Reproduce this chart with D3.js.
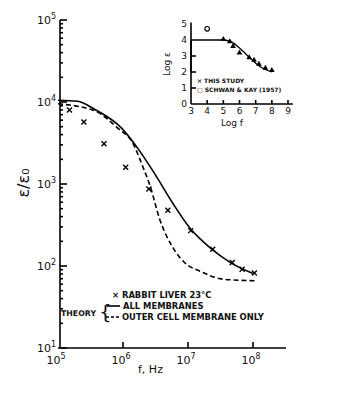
<!DOCTYPE html>
<html>
<head>
<meta charset="utf-8">
<script src="https://cdn.jsdelivr.net/npm/d3@7"></script>
<style>
  body { margin: 0; background: #fff; }
  svg { display: block; font-family: "DejaVu Sans", sans-serif; }
  .ax { stroke: #000; stroke-width: 1.6; fill: none; }
  .lbl { fill: #111; }
</style>
</head>
<body>
<svg width="353" height="413"></svg>
<script>
// main chart: permittivity ratio vs frequency (log-log)
const measF = [1.5e5, 2.5e5, 5.1e5, 1.1e6, 2.5e6, 4.9e6, 1.1e7, 2.4e7, 4.8e7, 6.8e7, 1.05e8];
const measE = [8000, 5700, 3100, 1600, 870, 480, 270, 160, 110, 91, 82];

const allF = [1e5, 2e5, 3.7e5, 9.5e5, 1.7e6, 3.1e6, 5.9e6, 1.07e7, 2.2e7, 4.5e7, 1e8];
const allE = [10500, 10200, 8100, 4800, 2700, 1320, 575, 290, 166, 110, 81];

const outF = [1e5, 3.7e5, 8.3e5, 1.4e6, 2.0e6, 2.6e6, 3.7e6, 5.9e6, 9.5e6, 1.5e7, 3.5e7, 1.07e8];
const outE = [9500, 7800, 4800, 3200, 1660, 955, 365, 166, 105, 87, 69, 66];

const yTicks = [1e1, 1e2, 1e3, 1e4, 1e5];
const xTicks = [1e5, 1e6, 1e7, 1e8];

// inset: log eps vs log f
const insLogF = [5.0, 5.5, 6.0, 6.5, 7.0, 7.5, 8.0];
const insLogE = [4.0, 3.88, 3.5, 3.02, 2.55, 2.2, 2.0];
const studyF = [5.0, 5.4, 5.6, 6.0, 6.6, 6.9, 7.2, 7.6, 8.0];
const studyE = [4.05, 3.9, 3.6, 3.2, 2.9, 2.75, 2.5, 2.25, 2.1];
const schwanF = [4.0];
const schwanE = [4.7];
const insXTicks = [3, 4, 5, 6, 7, 8, 9];
const insYTicks = [0, 1, 2, 3, 4, 5];

const svg = d3.select('svg');

const x = d3.scaleLog().domain([1e5, 1e8]).range([58, 253]);
const y = d3.scaleLog().domain([10, 1e5]).range([348, 20]);

// axes
svg.append('line').attr('class', 'ax')
  .attr('x1', x(1e5)).attr('x2', 286).attr('y1', y(10)).attr('y2', y(10));
svg.append('line').attr('class', 'ax')
  .attr('x1', x(1e5) + 2).attr('x2', x(1e5) + 2).attr('y1', y(10)).attr('y2', y(1e5));

// y minor ticks (inward)
const yMinor = [];
for (let d = 1; d < 5; d++) for (let m = 2; m < 10; m++) yMinor.push(m * Math.pow(10, d));
svg.selectAll('.ym').data(yMinor).join('line')
  .attr('class', 'ax').attr('stroke-width', 1)
  .attr('x1', x(1e5) + 2).attr('x2', x(1e5) + 5)
  .attr('y1', d => y(d)).attr('y2', d => y(d));
svg.selectAll('.yM').data(yTicks).join('line')
  .attr('class', 'ax')
  .attr('x1', x(1e5) + 2).attr('x2', x(1e5) + 9)
  .attr('y1', d => y(d)).attr('y2', d => y(d));
svg.selectAll('.xM').data(xTicks.slice(1)).join('line')
  .attr('class', 'ax')
  .attr('x1', d => x(d)).attr('x2', d => x(d))
  .attr('y1', y(10)).attr('y2', y(10) - 6);

function pow10(sel, exp) {
  sel.append('tspan').text('10');
  sel.append('tspan').attr('dy', -5).attr('font-size', 8).text(exp);
}
svg.selectAll('.yl').data(yTicks).join('text')
  .attr('class', 'lbl').attr('font-size', 11).attr('text-anchor', 'end')
  .attr('x', 56).attr('y', d => y(d) + 4)
  .each(function(d) { pow10(d3.select(this), Math.round(Math.log10(d))); });
svg.selectAll('.xl').data(xTicks).join('text')
  .attr('class', 'lbl').attr('font-size', 11).attr('text-anchor', 'middle')
  .attr('x', d => x(d) - 2).attr('y', 364)
  .each(function(d) { pow10(d3.select(this), Math.round(Math.log10(d))); });

svg.append('text').attr('class', 'lbl').attr('font-size', 11)
  .attr('x', 138).attr('y', 373).text('f, Hz');
svg.append('text').attr('class', 'lbl').attr('font-size', 16)
  .attr('transform', 'translate(29,183) rotate(-90)').attr('text-anchor', 'middle')
  .text('\u03b5/\u03b5\u2080');

// curves
const line = d3.line().x(d => x(d[0])).y(d => y(d[1])).curve(d3.curveMonotoneX);
svg.append('path').attr('d', line(d3.zip(allF, allE)))
  .attr('fill', 'none').attr('stroke', '#000').attr('stroke-width', 1.6);
svg.append('path').attr('d', line(d3.zip(outF, outE)))
  .attr('fill', 'none').attr('stroke', '#000').attr('stroke-width', 1.6)
  .attr('stroke-dasharray', '5,3');

const cross = d3.symbol().type(d3.symbolTimes).size(18);
svg.selectAll('.pt').data(d3.zip(measF, measE)).join('path')
  .attr('d', cross).attr('fill', 'none').attr('stroke', '#000').attr('stroke-width', 1.4)
  .attr('transform', d => `translate(${x(d[0])},${y(d[1])})`);

// legend
const lg = svg.append('g').attr('font-size', 8.4).attr('font-weight', 'bold').attr('fill', '#111');
lg.append('text').attr('x', 112).attr('y', 298).text('\u00d7 RABBIT LIVER  23\u00b0C');
lg.append('text').attr('x', 61).attr('y', 316).attr('font-size', 7.8).text('THEORY');
lg.append('text').attr('x', 99).attr('y', 319).attr('font-size', 20).attr('font-weight', 'normal').text('{');
lg.append('line').attr('x1', 107).attr('x2', 120).attr('y1', 306).attr('y2', 306)
  .attr('stroke', '#000').attr('stroke-width', 1.6);
lg.append('line').attr('x1', 106).attr('x2', 121).attr('y1', 317).attr('y2', 317)
  .attr('stroke', '#000').attr('stroke-width', 1.4).attr('stroke-dasharray', '3,2');
lg.append('text').attr('x', 123).attr('y', 309).text('ALL MEMBRANES');
lg.append('text').attr('x', 122).attr('y', 320).text('OUTER CELL MEMBRANE ONLY');

// inset
const ix = d3.scaleLinear().domain([3, 9]).range([191, 288]);
const iy = d3.scaleLinear().domain([0, 5]).range([104, 24]);
const ins = svg.append('g');
ins.append('line').attr('class', 'ax').attr('stroke-width', 1.2)
  .attr('x1', ix(3)).attr('x2', ix(9.3)).attr('y1', iy(0)).attr('y2', iy(0));
ins.append('line').attr('class', 'ax').attr('stroke-width', 1.2)
  .attr('x1', ix(3)).attr('x2', ix(3)).attr('y1', iy(0)).attr('y2', iy(5.1));
ins.append('line').attr('class', 'ax').attr('stroke-width', 2.8)
  .attr('x1', ix(3)).attr('x2', ix(3)).attr('y1', iy(2)).attr('y2', iy(4));
ins.selectAll('.ixt').data(insXTicks.slice(1)).join('line')
  .attr('class', 'ax').attr('stroke-width', 1.2)
  .attr('x1', d => ix(d)).attr('x2', d => ix(d)).attr('y1', iy(0)).attr('y2', iy(0) - 4);
ins.selectAll('.iyt').data(insYTicks.slice(1, 4)).join('line')
  .attr('class', 'ax').attr('stroke-width', d => d > 1 ? 2 : 1.2)
  .attr('x1', ix(3)).attr('x2', ix(3) + 5).attr('y1', d => iy(d)).attr('y2', d => iy(d));
ins.selectAll('.ixl').data(insXTicks).join('text')
  .attr('class', 'lbl').attr('font-size', 9).attr('text-anchor', 'middle')
  .attr('x', d => ix(d)).attr('y', 114).text(d => d);
ins.selectAll('.iyl').data(insYTicks).join('text')
  .attr('class', 'lbl').attr('font-size', 9).attr('text-anchor', 'end')
  .attr('x', ix(3) - 4).attr('y', d => iy(d) + 3).text(d => d);
ins.append('text').attr('class', 'lbl').attr('font-size', 9)
  .attr('x', 232).attr('y', 126).attr('text-anchor', 'middle').text('Log f');
ins.append('text').attr('class', 'lbl').attr('font-size', 9)
  .attr('transform', 'translate(170,64) rotate(-90)').attr('text-anchor', 'middle').text('Log \u03b5');

const iline = d3.line().x(d => ix(d[0])).y(d => iy(d[1])).curve(d3.curveMonotoneX);
ins.append('path').attr('d', iline([[3, 4]].concat(d3.zip(insLogF, insLogE))))
  .attr('fill', 'none').attr('stroke', '#000').attr('stroke-width', 1.3);
ins.selectAll('.st').data(d3.zip(studyF, studyE)).join('path')
  .attr('d', d3.symbol().type(d3.symbolTriangle).size(14))
  .attr('fill', '#000')
  .attr('transform', d => `translate(${ix(d[0])},${iy(d[1])})`);
ins.selectAll('.sk').data(d3.zip(schwanF, schwanE)).join('circle')
  .attr('cx', d => ix(d[0])).attr('cy', d => iy(d[1])).attr('r', 2.3)
  .attr('fill', 'none').attr('stroke', '#000').attr('stroke-width', 1.1);
const il = ins.append('g').attr('font-size', 6).attr('font-weight', 'bold').attr('fill', '#111');
il.append('text').attr('x', 197).attr('y', 83).text('\u00d7 THIS STUDY');
il.append('text').attr('x', 197).attr('y', 92).text('\u25a1 SCHWAN & KAY (1957)');
</script>
</body>
</html>
